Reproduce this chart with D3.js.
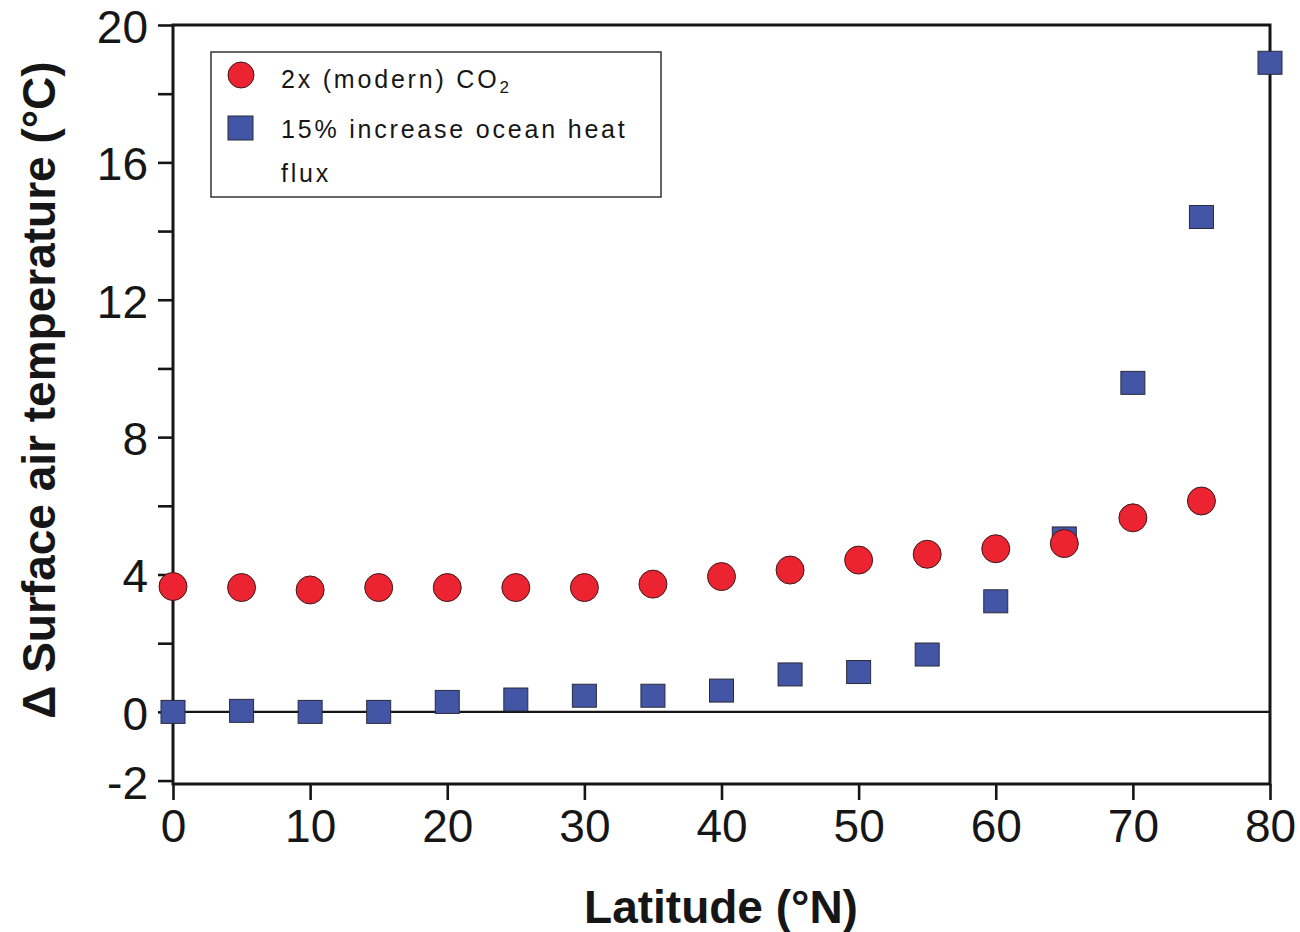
<!DOCTYPE html>
<html>
<head>
<meta charset="utf-8">
<script src="https://cdn.jsdelivr.net/npm/d3@7"></script>
<style>
  html, body { margin: 0; padding: 0; background: #fff; }
  svg { display: block; }
  .tick text { font-family: "Liberation Sans", Arial, sans-serif; }
</style>
</head>
<body>
<svg id="chart" width="1300" height="932"></svg>
<script>
// ---- data ----
const latitudes = [0, 5, 10, 15, 20, 25, 30, 35, 40, 45, 50, 55, 60, 65, 70, 75, 80];
const co2Lat = [0, 5, 10, 15, 20, 25, 30, 35, 40, 45, 50, 55, 60, 65, 70, 75];
const co2Values = [3.65, 3.62, 3.55, 3.62, 3.62, 3.62, 3.62, 3.72, 3.94, 4.13, 4.42, 4.59, 4.75, 4.90, 5.65, 6.14];
const oceanValues = [0, 0.03, 0, 0, 0.29, 0.36, 0.47, 0.47, 0.62, 1.09, 1.16, 1.67, 3.22, 5.05, 9.58, 14.41, 18.9];
const xTicks = [0, 10, 20, 30, 40, 50, 60, 70, 80];
const yTicks = [-2, 0, 2, 4, 6, 8, 10, 12, 14, 16, 18, 20];
const yLabelled = [-2, 0, 4, 8, 12, 16, 20];
const seriesNames = ["2x (modern) CO", "15% increase ocean heat", "flux"];
const xTitle = "Latitude (°N)";
const yTitle = "Δ Surface air temperature (°C)";

const RED = "#ec2330";
const BLUE = "#4356a6";
const INK = "#161616";

const svg = d3.select("#chart");
svg.append("rect").attr("width", 1300).attr("height", 932).attr("fill", "#fff");

const x = d3.scaleLinear().domain([0, 80]).range([173, 1270]);
const y = d3.scaleLinear().domain([-2.1, 20]).range([784, 25]);

// frame
svg.append("rect")
  .attr("x", x(0)).attr("y", y(20))
  .attr("width", x(80) - x(0)).attr("height", y(-2.1) - y(20))
  .attr("fill", "none").attr("stroke", INK).attr("stroke-width", 3);

// zero line
svg.append("line")
  .attr("x1", x(0)).attr("x2", x(80))
  .attr("y1", y(0)).attr("y2", y(0))
  .attr("stroke", INK).attr("stroke-width", 2.2);

// left axis
const yAxis = svg.append("g")
  .attr("transform", `translate(${x(0)},0)`)
  .call(d3.axisLeft(y).tickValues(yTicks).tickSize(15).tickPadding(10)
    .tickFormat(d => yLabelled.includes(d) ? (d < 0 ? "-" + Math.abs(d) : d) : ""));
yAxis.select(".domain").remove();
yAxis.selectAll(".tick line").attr("stroke", INK).attr("stroke-width", 2.6);
yAxis.selectAll(".tick text")
  .attr("font-size", 46).attr("fill", INK).attr("dy", "0.38em");

// bottom axis
const xAxis = svg.append("g")
  .attr("transform", `translate(0,${y(-2.1)})`)
  .call(d3.axisBottom(x).tickValues(xTicks).tickSize(16).tickPadding(9));
xAxis.select(".domain").remove();
xAxis.selectAll(".tick line").attr("stroke", INK).attr("stroke-width", 2.6);
xAxis.selectAll(".tick text")
  .attr("font-size", 46).attr("fill", INK);

// axis titles
svg.append("text")
  .attr("x", 721).attr("y", 923)
  .attr("text-anchor", "middle")
  .attr("font-family", "Liberation Sans, Arial, sans-serif")
  .attr("font-weight", "bold").attr("font-size", 46)
  .attr("fill", INK)
  .text(xTitle);

svg.append("text")
  .attr("transform", "translate(55,390) rotate(-90)")
  .attr("text-anchor", "middle")
  .attr("font-family", "Liberation Sans, Arial, sans-serif")
  .attr("font-weight", "bold").attr("font-size", 46)
  .attr("fill", INK)
  .text(yTitle);

// ocean heat flux squares
const SW = 24, SH = 23;
svg.append("g").selectAll("rect")
  .data(latitudes.map((d, i) => ({ lat: d, v: oceanValues[i] })))
  .join("rect")
  .attr("x", d => x(d.lat) - SW / 2)
  .attr("y", d => y(d.v) - SH / 2)
  .attr("width", SW).attr("height", SH)
  .attr("fill", BLUE).attr("stroke", "#2a2a3a").attr("stroke-width", 1);

// CO2 circles
svg.append("g").selectAll("circle")
  .data(co2Lat.map((d, i) => ({ lat: d, v: co2Values[i] })))
  .join("circle")
  .attr("cx", d => x(d.lat))
  .attr("cy", d => y(d.v))
  .attr("r", 14)
  .attr("fill", RED).attr("stroke", "#3a1a1a").attr("stroke-width", 1);

// legend
const lg = svg.append("g");
lg.append("rect")
  .attr("x", 211).attr("y", 52).attr("width", 450).attr("height", 145)
  .attr("fill", "#fff").attr("stroke", "#333").attr("stroke-width", 1.5);
lg.append("circle").attr("cx", 241).attr("cy", 75).attr("r", 13)
  .attr("fill", RED).attr("stroke", "#3a1a1a").attr("stroke-width", 1);
lg.append("rect").attr("x", 228).attr("y", 116).attr("width", 25).attr("height", 24)
  .attr("fill", BLUE).attr("stroke", "#2a2a3a").attr("stroke-width", 1);

const legendText = (yPos) => lg.append("text")
  .attr("x", 281).attr("y", yPos)
  .attr("font-family", "Liberation Sans, Arial, sans-serif")
  .attr("font-size", 25).attr("letter-spacing", "2.8px")
  .attr("fill", INK);

const t1 = legendText(88);
t1.append("tspan").text(seriesNames[0]);
t1.append("tspan").attr("font-size", 17).attr("dy", 5).text("2");
legendText(138).text(seriesNames[1]);
legendText(182).text(seriesNames[2]);
</script>
</body>
</html>
